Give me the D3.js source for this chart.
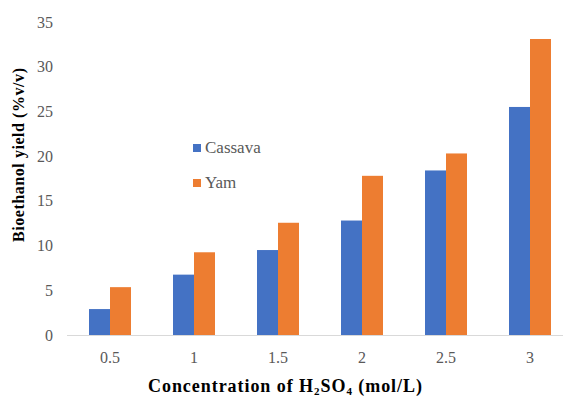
<!DOCTYPE html>
<html>
<head>
<meta charset="utf-8">
<script src="https://cdn.jsdelivr.net/npm/d3@7"></script>
<style>
  html, body { margin: 0; padding: 0; background: #fff; }
  svg { display: block; }
</style>
</head>
<body>
<svg id="chart" width="563" height="398"></svg>
<script>
// Bioethanol yield by acid concentration
const categories = ["0.5", "1", "1.5", "2", "2.5", "3"];
const seriesNames = ["Cassava", "Yam"];
const cassava = [2.9, 6.75, 9.5, 12.8, 18.4, 25.5];
const yam = [5.35, 9.25, 12.55, 17.8, 20.3, 33.1];
const yTicks = [0, 5, 10, 15, 20, 25, 30, 35];
const colors = ["#4472C4", "#ED7D31"];

const FONT = '"Liberation Serif", "Times New Roman", serif';
const tickColor = "#595959";

const svg = d3.select("#chart");

const x = d3.scaleBand().domain(categories).range([68, 572]).paddingInner(0.5).paddingOuter(0.25);
const xs = d3.scaleBand().domain(seriesNames).range([0, x.bandwidth()]);
const y = d3.scaleLinear().domain([0, 35]).range([335, 22]);

const series = [cassava, yam];

// bars
seriesNames.forEach((name, si) => {
  svg.append("g").selectAll("rect")
    .data(categories.map((c, i) => ({ c, v: series[si][i] })))
    .join("rect")
    .attr("x", d => x(d.c) + xs(name))
    .attr("y", d => y(d.v))
    .attr("width", xs.bandwidth())
    .attr("height", d => y(0) - y(d.v))
    .attr("fill", colors[si]);
});

// baseline
svg.append("line")
  .attr("x1", 67).attr("x2", 563)
  .attr("y1", y(0) + 0.5).attr("y2", y(0) + 0.5)
  .attr("stroke", "#d9d9d9").attr("stroke-width", 1);

// y axis labels
const gy = svg.append("g").attr("transform", "translate(53,0)")
  .call(d3.axisLeft(y).tickValues(yTicks).tickSize(0).tickPadding(0));
gy.select(".domain").remove();
gy.attr("font-family", null).attr("font-size", null);
gy.selectAll("text")
  .style("font-family", FONT).style("font-size", "16px").attr("fill", tickColor);

// x axis labels
const gx = svg.append("g").attr("transform", "translate(0,352)")
  .call(d3.axisBottom(x).tickSize(0).tickPadding(0));
gx.select(".domain").remove();
gx.attr("font-family", null).attr("font-size", null);
gx.selectAll("text")
  .style("font-family", FONT).style("font-size", "16px").attr("fill", tickColor);

// axis titles
svg.append("text")
  .attr("transform", "translate(24,155) rotate(-90)")
  .attr("text-anchor", "middle")
  .attr("textLength", 174).attr("lengthAdjust", "spacing")
  .style("font-family", FONT).style("font-size", "16px").style("font-weight", "bold")
  .attr("fill", "#000")
  .text("Bioethanol yield (%v/v)");

const xt = svg.append("text")
  .attr("x", 148).attr("y", 392)
  .attr("textLength", 274).attr("lengthAdjust", "spacing")
  .style("font-family", FONT).style("font-size", "18px").style("font-weight", "bold")
  .attr("fill", "#000");
xt.append("tspan").text("Concentration of  H");
xt.append("tspan").style("font-size", "11px").attr("dy", 3).text("2");
xt.append("tspan").attr("dy", -3).text("SO");
xt.append("tspan").style("font-size", "11px").attr("dy", 3).text("4");
xt.append("tspan").attr("dy", -3).text(" (mol/L)");

// legend
const legend = svg.append("g");
seriesNames.forEach((name, i) => {
  const ly = 153 + i * 35;
  legend.append("rect")
    .attr("x", 193).attr("y", ly - 9).attr("width", 8).attr("height", 8)
    .attr("fill", colors[i]);
  legend.append("text")
    .attr("x", 205).attr("y", ly)
    .style("font-family", FONT).style("font-size", "17px").attr("fill", tickColor)
    .text(name);
});
</script>
</body>
</html>
